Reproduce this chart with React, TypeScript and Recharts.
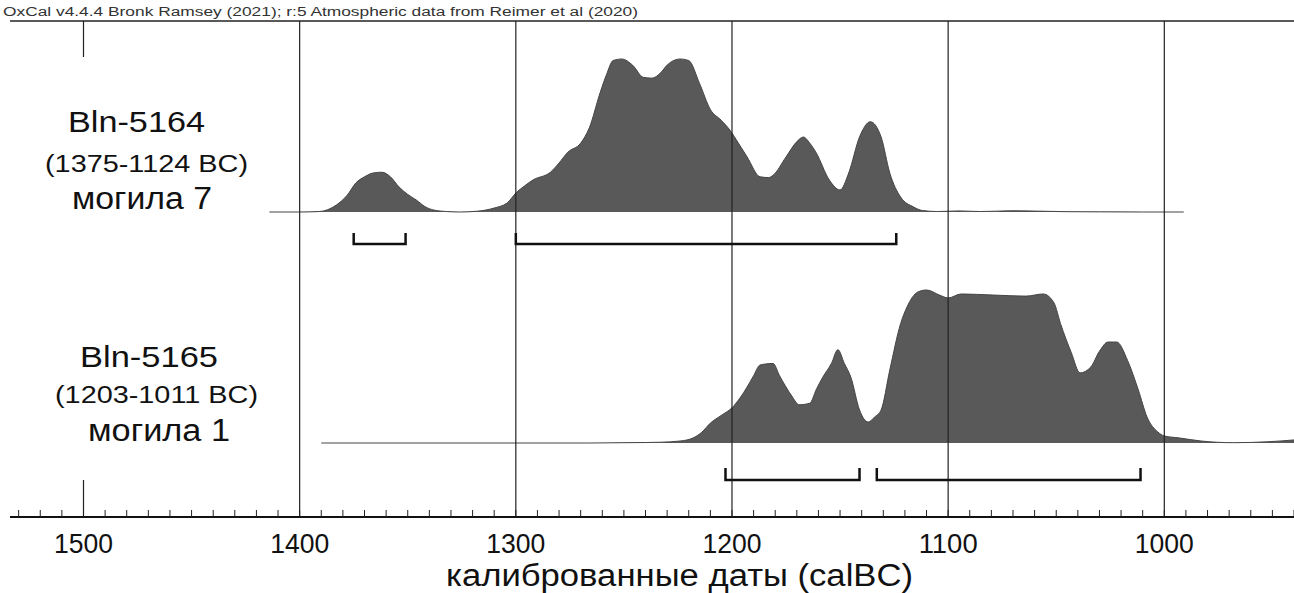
import React from 'react';
import { ComposedChart, Area, Line, XAxis, YAxis, ReferenceLine } from 'recharts';

// ---------- data ----------
const upperYears = [1414, 1400, 1391, 1383, 1378, 1374, 1370, 1366, 1362, 1358, 1354, 1350, 1346, 1342, 1338, 1332, 1326, 1318, 1310, 1304, 1300, 1296, 1292, 1284, 1280, 1276, 1270, 1266, 1261, 1258, 1255, 1251, 1246, 1241, 1237, 1233, 1230, 1224, 1220, 1215, 1210, 1205, 1201, 1197, 1193, 1187, 1183, 1181, 1175, 1170, 1167, 1164, 1161, 1155, 1150, 1146, 1141, 1136, 1131, 1127, 1122, 1116, 1112, 1105, 1095, 1085, 1070, 1060, 1045, 1030, 1010, 991];
const upperProb = [0, 0, 0.3, 4.6, 11, 19, 23, 25.5, 26, 23, 16.3, 11.5, 7.8, 3.5, 1.3, 0.3, 0, 0.5, 2.6, 5.9, 12.4, 17, 21, 26, 32, 39, 45, 55, 78, 90, 99, 100, 96, 88, 87.5, 91, 96, 100, 99, 84, 67, 60, 53.6, 45, 36, 23, 22.5, 24, 36, 46, 49, 45, 38.6, 21, 14.4, 25.5, 49, 59, 49, 25.5, 9.8, 3.3, 1, 0.3, 0.7, 0.3, 0.8, 0.6, 0.2, 0.1, 0, 0];

const lowerYears = [1390, 1300, 1266, 1250, 1240, 1233, 1224, 1218, 1214, 1210, 1205, 1200, 1196, 1193, 1190, 1187, 1181, 1178, 1175, 1172, 1169, 1164, 1161, 1158, 1154, 1151, 1148, 1145, 1141, 1137, 1134, 1131, 1127, 1122, 1119, 1114, 1110, 1104, 1100, 1094, 1079, 1064, 1056, 1051, 1048, 1043, 1039, 1034, 1030, 1026, 1022, 1017, 1012, 1008, 1003, 1000, 993, 983, 968, 952, 940];
const lowerProb = [0, 0, 0, 0.2, 0.3, 0.5, 1.3, 3.3, 7, 13, 18, 23, 30, 36.6, 44, 51, 52, 44, 36.6, 30, 25, 26, 35, 43, 52, 61, 52, 43, 21.6, 13.7, 17, 21.6, 47.7, 78, 89, 98.7, 100, 96.7, 94.8, 97.4, 96.7, 96, 97.4, 91.5, 78, 59, 45.8, 49.7, 60, 66, 66, 54, 34.6, 17, 7.2, 4.6, 3.3, 1.3, 0.2, 0.8, 2];

const upperRanges = [[1375, 1351], [1300, 1124]];
const lowerRanges = [[1203, 1141], [1133, 1011]];

const gridYears = [1400, 1300, 1200, 1100, 1000];
const tickLabels = [1500, 1400, 1300, 1200, 1100, 1000];

const sampleNames = ['Bln-5164', 'Bln-5165'];
const sampleRanges = ['(1375-1124 BC)', '(1203-1011 BC)'];
const sampleGraves = ['могила 7', 'могила 1'];

const headerText = 'OxCal v4.4.4 Bronk Ramsey (2021); r:5 Atmospheric data from Reimer et al (2020)';
const axisTitle = 'калиброванные даты (calBC)';

// ---------- layout ----------
const W = 1294;
const H = 593;
const PLOT_TOP = 21;
const PLOT_BOTTOM = 517;
const UP_BASE = 212;
const LO_BASE = 443;
const PX = 1.53; // px per probability unit
const U_DOMAIN: [number, number] = [-(PLOT_BOTTOM - UP_BASE) / PX, (UP_BASE - PLOT_TOP) / PX];
const L_DOMAIN: [number, number] = [-(PLOT_BOTTOM - LO_BASE) / PX, (LO_BASE - PLOT_TOP) / PX];
const X_DOMAIN: [number, number] = [940, 1534];
const FONT = '"Liberation Sans", Arial, sans-serif';

const upperData = upperYears.map((y, i) => ({ year: y, p: upperProb[i] }));
const lowerData = lowerYears.map((y, i) => ({ year: y, p: lowerProb[i] }));

const bracketData = (r: number[], linePx: number, topPx: number) => [
  { year: r[0], v: -topPx / PX },
  { year: r[0], v: -linePx / PX },
  { year: r[1], v: -linePx / PX },
  { year: r[1], v: -topPx / PX },
];

const allTicks: number[] = [];
for (let t = 940; t <= 1530; t += 10) allTicks.push(t);

const AxisTick = (props: any) => {
  const { x, y, payload } = props;
  const v = payload.value;
  const major = tickLabels.includes(v);
  return (
    <g>
      <line x1={x} x2={x} y1={y} y2={y - 7} stroke="#222" strokeWidth={1} />
      {major && (
        <text x={x} y={y + 36} textAnchor="middle" fontSize={28} fontFamily={FONT} fill="#111"
          textLength={59} lengthAdjust="spacingAndGlyphs">{v}</text>
      )}
    </g>
  );
};

const labelPos = [
  { nameX: 68, nameY: 132, nameW: 137, rangeX: 45, rangeY: 172, rangeW: 203, graveX: 72, graveY: 209, graveW: 140 },
  { nameX: 80, nameY: 367, nameW: 138, rangeX: 55, rangeY: 403, rangeW: 203, graveX: 88, graveY: 441, graveW: 142 },
];

export default function App() {
  return (
    <div style={{ position: 'absolute', left: 0, top: 0, width: W, height: H, background: '#fff' }}>
      <ComposedChart width={W} height={H} margin={{ top: PLOT_TOP, right: 0, bottom: 0, left: 0 }}>
        <XAxis dataKey="year" type="number" domain={X_DOMAIN} reversed allowDataOverflow
          ticks={allTicks} interval={0} tickLine={false} tickSize={0} tickMargin={0}
          tick={<AxisTick />} axisLine={{ stroke: '#111', strokeWidth: 2 }} height={H - PLOT_BOTTOM} />
        <YAxis yAxisId="u" type="number" domain={U_DOMAIN} allowDataOverflow width={10}
          tick={false} tickLine={false} axisLine={{ stroke: '#222', strokeWidth: 1.5 }} />
        <YAxis yAxisId="l" type="number" domain={L_DOMAIN} allowDataOverflow hide />

        {gridYears.map((g) => (
          <ReferenceLine key={g} yAxisId="u" x={g} stroke="#222" strokeWidth={1.2} ifOverflow="visible" />
        ))}
        <ReferenceLine yAxisId="u" segment={[{ x: 1500, y: U_DOMAIN[1] }, { x: 1500, y: (UP_BASE - 57) / PX }]}
          stroke="#222" strokeWidth={1.2} ifOverflow="visible" />
        <ReferenceLine yAxisId="l" segment={[{ x: 1500, y: -(480 - LO_BASE) / PX }, { x: 1500, y: L_DOMAIN[0] }]}
          stroke="#222" strokeWidth={1.2} ifOverflow="visible" />
        <ReferenceLine yAxisId="u" y={U_DOMAIN[1]} stroke="#222" strokeWidth={1.5} ifOverflow="visible" />

        <Area yAxisId="u" data={upperData} dataKey="p" type="monotone" baseValue={0}
          fill="#595959" fillOpacity={1} stroke="#444" strokeWidth={1} isAnimationActive={false} />
        <Area yAxisId="l" data={lowerData} dataKey="p" type="monotone" baseValue={0}
          fill="#595959" fillOpacity={1} stroke="#444" strokeWidth={1} isAnimationActive={false} />

        {upperRanges.map((r, i) => (
          <Line key={'u' + i} yAxisId="u" data={bracketData(r, 32, 21)} dataKey="v" type="linear"
            stroke="#111" strokeWidth={2.5} dot={false} isAnimationActive={false} />
        ))}
        {lowerRanges.map((r, i) => (
          <Line key={'l' + i} yAxisId="l" data={bracketData(r, 37, 25)} dataKey="v" type="linear"
            stroke="#111" strokeWidth={2.5} dot={false} isAnimationActive={false} />
        ))}
      </ComposedChart>
      <svg width={W} height={H} style={{ position: 'absolute', left: 0, top: 0, pointerEvents: 'none' }}>
        <text x={3} y={16} fontSize={12.5} fontFamily={FONT} fill="#333" textLength={635}
          lengthAdjust="spacingAndGlyphs">{headerText}</text>
        {labelPos.map((p, i) => (
          <g key={i} fontFamily={FONT} fill="#111">
            <text x={p.nameX} y={p.nameY} fontSize={29} textLength={p.nameW} lengthAdjust="spacingAndGlyphs">{sampleNames[i]}</text>
            <text x={p.rangeX} y={p.rangeY} fontSize={23} textLength={p.rangeW} lengthAdjust="spacingAndGlyphs">{sampleRanges[i]}</text>
            <text x={p.graveX} y={p.graveY} fontSize={31} textLength={p.graveW} lengthAdjust="spacingAndGlyphs">{sampleGraves[i]}</text>
          </g>
        ))}
        <text x={446} y={586} fontSize={31} fontFamily={FONT} fill="#111" textLength={467}
          lengthAdjust="spacingAndGlyphs">{axisTitle}</text>
      </svg>
    </div>
  );
}
